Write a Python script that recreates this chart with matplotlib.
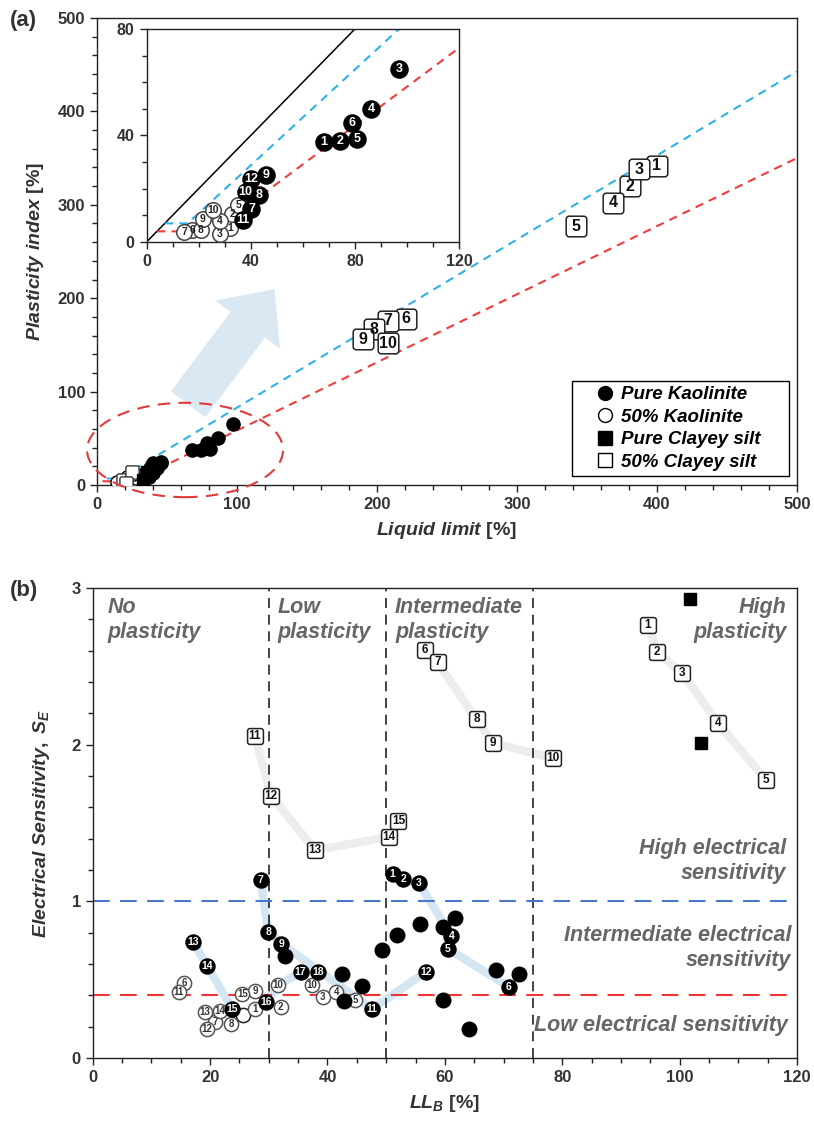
import matplotlib
matplotlib.use("Agg")
import matplotlib.pyplot as plt
from matplotlib.path import Path
from matplotlib.patches import Ellipse, FancyArrowPatch
from matplotlib.lines import Line2D
from matplotlib.ticker import MultipleLocator

plt.rcParams['font.family'] = ['Liberation Sans', 'DejaVu Sans']
plt.rcParams['mathtext.fontset'] = 'custom'
plt.rcParams['mathtext.rm'] = 'Liberation Sans:bold'
plt.rcParams['mathtext.it'] = 'Liberation Sans:italic:bold'
plt.rcParams['mathtext.bf'] = 'Liberation Sans:bold'

# ---------------- Panel (a) data ----------------
# Pure Kaolinite (inset, labelled 1-12)
pk_a_ll = [68, 74.4, 96.9, 86.3, 80.8, 78.9, 40.3, 43.2, 46, 38, 37.1, 40]
pk_a_pi = [37.4, 37.75, 65, 50, 38.75, 44.6, 12.5, 17.75, 25, 18.6, 8.4, 23.6]
pk_a_lab = ['1', '2', '3', '4', '5', '6', '7', '8', '9', '10', '11', '12']
# 50% Kaolinite (inset, labelled 1-10)
k50_a_ll = [32, 33, 28.1, 28.1, 35.2, 17.6, 14.5, 20.8, 21.5, 25.6]
k50_a_pi = [5.25, 10.6, 3.1, 8, 13.75, 4.4, 3.6, 4.6, 8.75, 11.9]
k50_a_lab = ['1', '2', '3', '4', '5', '6', '7', '8', '9', '10']
# 50% Clayey silt (main, labelled 1-10)
cs50_a_ll = [400, 381, 387, 369, 342, 221, 208, 198, 190, 208]
cs50_a_pi = [342, 320, 338, 302, 277, 178, 176, 167, 156, 152]
cs50_a_lab = ['1', '2', '3', '4', '5', '6', '7', '8', '9', '10']
# small unlabelled points near origin (main)
cs50_a_small_ll = [18.8, 24.8, 20.5]
cs50_a_small_pi = [5.4, 14.2, 2.5]
pcs_a_ll = [36, 33]
pcs_a_pi = [14, 5]
k50_a_extra_ll = [41, 46]
k50_a_extra_pi = [22, 24]
# reference lines (A-line, U-line, equality)
aline_ll = [4, 25.5, 500]
aline_pi = [4, 4, 350]
uline_ll = [7, 15.8, 500]
uline_pi = [7, 7, 442.8]
eq_ll = [0, 80]
eq_pi = [0, 80]

# ---------------- Panel (b) data ----------------
pk_b_ll = [51.1, 52.9, 55.6, 61.1, 60.5, 70.9, 28.6, 29.9, 32.1, 47.6, 56.8,
           17.1, 19.5, 23.8, 29.6, 35.4, 38.4]
pk_b_se = [1.175, 1.143, 1.116, 0.779, 0.698, 0.454, 1.137, 0.807, 0.730, 0.313, 0.550,
           0.743, 0.587, 0.313, 0.355, 0.548, 0.550]
pk_b_lab = ['1', '2', '3', '4', '5', '6', '7', '8', '9', '11', '12',
            '13', '14', '15', '16', '17', '18']
pk_b_un_ll = [32.7, 42.4, 42.8, 45.8, 49.3, 51.8, 55.8, 59.6, 59.6, 61.8, 68.7, 72.6, 64.2]
pk_b_un_se = [0.651, 0.533, 0.362, 0.458, 0.687, 0.784, 0.854, 0.372, 0.833, 0.893,
              0.561, 0.533, 0.186]

k50_b_ll = [27.7, 32.0, 39.2, 41.5, 44.7, 15.6, 20.8, 23.6, 27.7, 31.6, 14.65, 19.5,
            19.1, 21.6, 25.5, 37.3]
k50_b_se = [0.315, 0.323, 0.390, 0.419, 0.368, 0.480, 0.227, 0.218, 0.430, 0.464,
            0.422, 0.184, 0.291, 0.297, 0.411, 0.464]
k50_b_lab = ['1', '2', '3', '4', '5', '6', '7', '8', '9', '10', '11', '12', '13', '14',
             '15', '10']
k50_b_un_ll = [25.6]
k50_b_un_se = [0.272]

cs50_b_ll = [94.6, 96.2, 100.5, 106.5, 114.7, 56.6, 58.8, 65.4, 68.2, 78.4,
             27.6, 30.4, 37.9, 50.5, 52.1]
cs50_b_se = [2.766, 2.588, 2.455, 2.139, 1.775, 2.603, 2.524, 2.160, 2.010, 1.914,
             2.053, 1.674, 1.325, 1.411, 1.511]
cs50_b_lab = [str(i) for i in range(1, 16)]
pcs_b_ll = [101.7, 103.7]
pcs_b_se = [2.927, 2.010]

# trend paths (light lines)
blue_paths = [
    ([51.1, 52.9, 55.6, 61.1, 60.5, 70.9], [1.175, 1.143, 1.116, 0.779, 0.698, 0.454]),
    ([28.6, 29.9, 32.1, 47.6, 56.8], [1.137, 0.807, 0.730, 0.313, 0.550]),
    ([17.1, 19.5, 23.8, 25.6, 29.6, 31.6, 35.4, 38.4],
     [0.743, 0.587, 0.313, 0.272, 0.355, 0.464, 0.548, 0.550]),
]
gray_paths = [
    ([94.6, 96.2, 100.5, 106.5, 114.7], [2.766, 2.588, 2.455, 2.139, 1.775]),
    ([56.6, 58.8, 65.4, 68.2, 78.4], [2.603, 2.524, 2.160, 2.010, 1.914]),
    ([27.6, 30.4, 37.9, 50.5, 52.1], [2.053, 1.674, 1.325, 1.411, 1.511]),
]
ll_bounds = [30, 50, 75]
se_bounds = [1.0, 0.4]


def rounded_square(r=0.3):
    verts = [(-1 + r, -1), (1 - r, -1), (1, -1), (1, -1 + r), (1, 1 - r), (1, 1),
             (1 - r, 1), (-1 + r, 1), (-1, 1), (-1, 1 - r), (-1, -1 + r), (-1, -1),
             (-1 + r, -1), (-1 + r, -1)]
    codes = [Path.MOVETO, Path.LINETO, Path.CURVE3, Path.CURVE3, Path.LINETO, Path.CURVE3,
             Path.CURVE3, Path.LINETO, Path.CURVE3, Path.CURVE3, Path.LINETO, Path.CURVE3,
             Path.CURVE3, Path.CLOSEPOLY]
    return Path(verts, codes)


RSQ = rounded_square()
TXT = '#333333'


def style_axes(ax, size=12):
    for s in ax.spines.values():
        s.set_linewidth(1.0)
        s.set_color('#222222')
    ax.tick_params(which='major', direction='out', length=5, width=1, labelsize=size,
                   colors='#222222', labelcolor=TXT)
    ax.tick_params(which='minor', direction='out', length=3.5, width=1, colors='#222222')
    for lab in ax.get_xticklabels() + ax.get_yticklabels():
        lab.set_fontweight('bold')


def labelled(ax, xs, ys, labs, marker, s, fc, ec, tc, fs, z=4):
    ax.scatter(xs, ys, s=s, marker=marker, facecolors=fc, edgecolors=ec, linewidths=1.1,
               zorder=z)
    for x, y, t in zip(xs, ys, labs):
        ax.text(x, y, t, ha='center', va='center', fontsize=fs, color=tc,
                fontweight='bold', zorder=z + 1)


fig = plt.figure(figsize=(8.14, 11.24), dpi=100)

# ================= Panel (a) =================
axa = fig.add_axes([0.119, 0.5685, 0.860, 0.4155])
axa.set_xlim(0, 500)
axa.set_ylim(0, 500)
axa.xaxis.set_major_locator(MultipleLocator(100))
axa.xaxis.set_minor_locator(MultipleLocator(20))
axa.yaxis.set_major_locator(MultipleLocator(100))
axa.yaxis.set_minor_locator(MultipleLocator(20))
axa.plot(aline_ll, aline_pi, color='#f03c3c', ls=(0, (4, 3)), lw=1.5, zorder=2)
axa.plot(uline_ll, uline_pi, color='#2eb2e8', ls=(0, (4, 3)), lw=1.5, zorder=2)

axa.scatter(k50_a_extra_ll, k50_a_extra_pi, s=90, marker='o', facecolors='white',
            edgecolors='black', linewidths=1, zorder=3)
axa.scatter(pk_a_ll, pk_a_pi, s=90, marker='o', c='black', zorder=4)
axa.scatter(k50_a_ll, k50_a_pi, s=90, marker='o', facecolors='white', edgecolors='black',
            linewidths=1, zorder=3)
axa.scatter(cs50_a_small_ll, cs50_a_small_pi, s=90, marker=RSQ, facecolors='white',
            edgecolors='#333333', linewidths=1, zorder=3)
axa.scatter(pcs_a_ll, pcs_a_pi, s=80, marker='s', c='black', zorder=4)
labelled(axa, cs50_a_ll, cs50_a_pi, cs50_a_lab, RSQ, 220, 'white', '#222222', '#111111', 11.5)

ell = Ellipse((63, 37.5), width=140, height=101, fill=False, ec='#e03a3a', ls=(0, (6, 4)),
              lw=1.5, clip_on=False, zorder=5)
axa.add_patch(ell)
arr = FancyArrowPatch((64, 84), (128, 212),
                      arrowstyle='simple,head_width=2.9,head_length=1.6,tail_width=1.55',
                      mutation_scale=20, color='#dae8f4', lw=0, zorder=1)
axa.add_patch(arr)

axa.set_xlabel(r'$\mathit{Liquid\ limit}$ [%]', fontsize=14, fontweight='bold', color=TXT,
               labelpad=6)
axa.set_ylabel(r'$\mathit{Plasticity\ index}$ [%]', fontsize=14, fontweight='bold', color=TXT,
               labelpad=8)
style_axes(axa)

hand = [
    Line2D([], [], ls='none', marker='o', mfc='black', mec='black', ms=10),
    Line2D([], [], ls='none', marker='o', mfc='white', mec='black', ms=10),
    Line2D([], [], ls='none', marker='s', mfc='black', mec='black', ms=10),
    Line2D([], [], ls='none', marker='s', mfc='white', mec='black', ms=10),
]
leg = axa.legend(hand, ['Pure Kaolinite', '50% Kaolinite', 'Pure Clayey silt', '50% Clayey silt'],
                 loc='lower left', bbox_to_anchor=(0.679, 0.019, 0.31, 0.22), mode='expand',
                 fancybox=False, edgecolor='black', framealpha=1, handletextpad=-0.55,
                 handlelength=2.85, borderpad=0.3, labelspacing=0.28, borderaxespad=0,
                 prop=dict(family='Liberation Sans', weight='bold', style='italic', size=13.5))
leg.get_frame().set_linewidth(1.0)
leg.set_zorder(6)

# inset
axi = fig.add_axes([0.180, 0.7847, 0.384, 0.1895])
axi.set_xlim(0, 120)
axi.set_ylim(0, 80)
axi.xaxis.set_major_locator(MultipleLocator(40))
axi.xaxis.set_minor_locator(MultipleLocator(10))
axi.yaxis.set_major_locator(MultipleLocator(40))
axi.yaxis.set_minor_locator(MultipleLocator(10))
axi.plot(eq_ll, eq_pi, color='black', lw=1.1, zorder=2)
axi.plot(aline_ll, aline_pi, color='#f03c3c', ls=(0, (4, 3)), lw=1.5, zorder=2)
axi.plot(uline_ll, uline_pi, color='#2eb2e8', ls=(0, (4, 3)), lw=1.5, zorder=2)
labelled(axi, k50_a_ll, k50_a_pi, k50_a_lab, 'o', 125, 'white', '#444444', '#222222', 7.5)
labelled(axi, pk_a_ll, pk_a_pi, pk_a_lab, 'o', 150, 'black', 'black', 'white', 9, z=6)
style_axes(axi, size=11.5)

fig.text(0.012, 0.982, '(a)', fontsize=16, fontweight='bold', color=TXT, va='center')

# ================= Panel (b) =================
axb = fig.add_axes([0.114, 0.0587, 0.865, 0.4183])
axb.set_xlim(0, 120)
axb.set_ylim(0, 3)
axb.xaxis.set_major_locator(MultipleLocator(20))
axb.xaxis.set_minor_locator(MultipleLocator(5))
axb.yaxis.set_major_locator(MultipleLocator(1))
axb.yaxis.set_minor_locator(MultipleLocator(0.2))

for xv in ll_bounds:
    axb.axvline(xv, color='#222222', ls=(0, (6, 4)), lw=1.2, zorder=2)
axb.axhline(se_bounds[0], color='#4a78c8', ls=(0, (8, 5)), lw=1.5, zorder=2)
axb.axhline(se_bounds[1], color='#f03434', ls=(0, (8, 5)), lw=1.5, zorder=2)

for px, py in blue_paths:
    axb.plot(px, py, color='#d5e6f3', lw=6, solid_capstyle='round', zorder=1)
for px, py in gray_paths:
    axb.plot(px, py, color='#ededed', lw=6, solid_capstyle='round', zorder=1)

axb.scatter(k50_b_un_ll, k50_b_un_se, s=105, marker='o', facecolors='white',
            edgecolors='#222222', linewidths=1.1, zorder=3)
labelled(axb, k50_b_ll, k50_b_se, k50_b_lab, 'o', 105, 'white', '#555555', '#333333', 7)
axb.scatter(pk_b_un_ll, pk_b_un_se, s=110, marker='o', c='black', zorder=4)
labelled(axb, pk_b_ll, pk_b_se, pk_b_lab, 'o', 115, 'black', 'black', 'white', 7.5, z=6)
labelled(axb, cs50_b_ll, cs50_b_se, cs50_b_lab, RSQ, 130, 'white', '#222222', '#111111', 8.5)
axb.scatter(pcs_b_ll, pcs_b_se, s=65, marker='s', c='black', zorder=4)

zone_kw = dict(fontsize=15.5, fontweight='bold', style='italic', color='#666666',
               linespacing=1.25, zorder=7)
axb.text(2.5, 2.94, 'No\nplasticity', ha='left', va='top', **zone_kw)
axb.text(31.5, 2.94, 'Low\nplasticity', ha='left', va='top', **zone_kw)
axb.text(51.5, 2.94, 'Intermediate\nplasticity', ha='left', va='top', **zone_kw)
axb.text(118.2, 2.94, 'High\nplasticity', ha='right', va='top', **zone_kw)
axb.text(118.2, 1.255, 'High electrical\nsensitivity', ha='right', va='center', **zone_kw)
axb.text(119.0, 0.70, 'Intermediate electrical\nsensitivity', ha='right', va='center', **zone_kw)
axb.text(118.5, 0.21, 'Low electrical sensitivity', ha='right', va='center', **zone_kw)

axb.set_xlabel(r'$\mathit{LL_B}$ [%]', fontsize=14, fontweight='bold', color=TXT, labelpad=6)
axb.set_ylabel(r'$\mathit{Electrical\ Sensitivity,\ S_E}$', fontsize=14, fontweight='bold',
               color=TXT, labelpad=14)
style_axes(axb)

fig.text(0.012, 0.475, '(b)', fontsize=16, fontweight='bold', color=TXT, va='center')

fig.savefig('out.png', dpi=100)
